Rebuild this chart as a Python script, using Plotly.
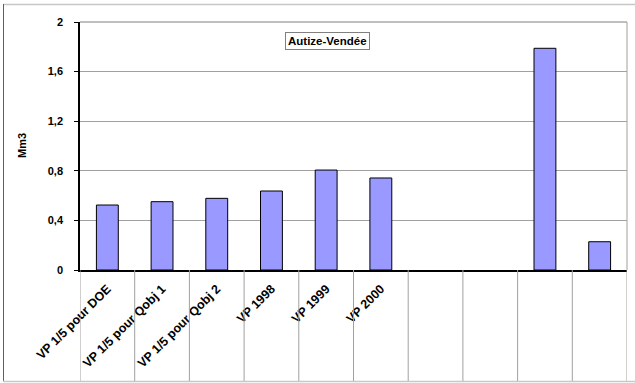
import plotly.graph_objects as go

# Volumes per scenario (Mm3); empty slots have no bar
categories = ["VP 1/5 pour DOE", "VP 1/5 pour Qobj 1", "VP 1/5 pour Qobj 2",
              "VP 1998", "VP 1999", "VP 2000", "", "", "", ""]
values = [0.524, 0.551, 0.578, 0.637, 0.806, 0.742, None, None, 1.788, 0.228]
y_ticks = [0, 0.4, 0.8, 1.2, 1.6, 2]
y_tick_labels = ["0", "0,4", "0,8", "1,2", "1,6", "2"]
chart_title = "Autize-Vendée"
y_title = "Mm3"

W, H = 635, 383
L, R, T, B = 80, 8, 22, 113
PW, PH = W - L - R, H - T - B
FONT = "Arial, Liberation Sans, sans-serif"


def px_x(p):
    return (p - L) / PW


def px_y(p):
    return (H - B - p) / PH


xs = list(range(len(categories)))

fig = go.Figure(go.Bar(
    x=xs, y=values, width=0.4,
    marker=dict(color="#9999FF", line=dict(color="#000000", width=1)),
))

shapes = []
# category separators below the x axis
for i in range(len(categories) + 1):
    shapes.append(dict(type="line", xref="x", yref="paper",
                       x0=i - 0.5, x1=i - 0.5, y0=0, y1=px_y(381.5),
                       line=dict(color="#A0A0A0", width=1)))
# plot frame: top and right edges
shapes.append(dict(type="line", xref="paper", yref="paper", x0=0, x1=1, y0=1, y1=1,
                   line=dict(color="#808080", width=1)))
shapes.append(dict(type="line", xref="paper", yref="paper", x0=1, x1=1, y0=0, y1=1,
                   line=dict(color="#A0A0A0", width=1)))
# outer chart border
shapes.append(dict(type="line", xref="paper", yref="paper",
                   x0=px_x(3), x1=px_x(640), y0=px_y(4.5), y1=px_y(4.5),
                   line=dict(color="#C8C8C8", width=1.5)))
shapes.append(dict(type="line", xref="paper", yref="paper",
                   x0=px_x(3.5), x1=px_x(3.5), y0=px_y(4), y1=px_y(382),
                   line=dict(color="#606060", width=1)))
shapes.append(dict(type="line", xref="paper", yref="paper",
                   x0=px_x(3), x1=px_x(640), y0=px_y(381.5), y1=px_y(381.5),
                   line=dict(color="#C8C8C8", width=1.5)))

fig.update_layout(
    width=W, height=H,
    margin=dict(l=L, r=R, t=T, b=B, pad=0),
    paper_bgcolor="white", plot_bgcolor="white",
    showlegend=False,
    font=dict(family=FONT, size=11, color="black"),
    shapes=shapes,
    annotations=[
        dict(text="<b>" + chart_title + "</b>", xref="paper", yref="paper",
             x=px_x(327), y=px_y(41), showarrow=False,
             font=dict(family=FONT, size=11.5, color="black"),
             bordercolor="#808080", borderwidth=1, borderpad=2,
             bgcolor="white", xanchor="center", yanchor="middle"),
        dict(text="<b>" + y_title + "</b>", xref="paper", yref="paper",
             x=px_x(22), y=px_y(146), showarrow=False, textangle=-90,
             font=dict(family=FONT, size=11, color="black"),
             xanchor="center", yanchor="middle"),
    ],
    xaxis=dict(
        range=[-0.5, len(categories) - 0.5],
        tickmode="array", tickvals=xs,
        ticktext=["<b>" + c + "</b>" if c else "" for c in categories],
        tickangle=-45, ticks="", showgrid=False, zeroline=False,
        showline=True, linecolor="black", linewidth=1.5,
        tickfont=dict(family=FONT, size=12.5, color="black"),
        ticklabelstandoff=5,
    ),
    yaxis=dict(
        range=[0, 2], tickmode="array", tickvals=y_ticks,
        ticktext=["<b>" + t + "</b>" for t in y_tick_labels],
        ticks="outside", ticklen=4, tickcolor="black",
        showgrid=True, gridcolor="#A0A0A0", gridwidth=1,
        zeroline=False, showline=True, linecolor="black", linewidth=1.5,
        tickfont=dict(family=FONT, size=11, color="black"),
        ticklabelstandoff=9,
    ),
)

fig.write_html("out.html")
